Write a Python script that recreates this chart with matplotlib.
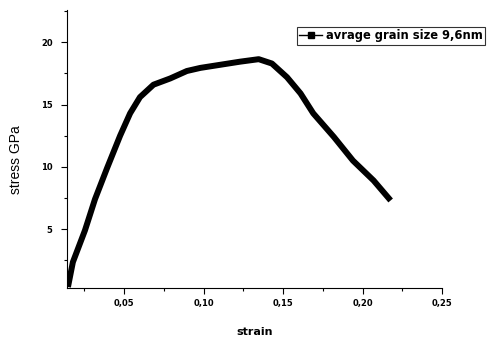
import matplotlib
matplotlib.use('Agg')
import matplotlib.pyplot as plt
from matplotlib.lines import Line2D
from matplotlib.ticker import MultipleLocator, FuncFormatter

# valores (strain, stress GPa)
strain = [0.0147, 0.0178, 0.0254, 0.0317, 0.0393, 0.0475, 0.0538, 0.060,
          0.0685, 0.079, 0.0895, 0.098, 0.1105, 0.123, 0.1347, 0.143,
          0.1525, 0.161, 0.169, 0.182, 0.194, 0.207, 0.2177]
stress = [0.35, 2.35, 4.9, 7.4, 9.9, 12.5, 14.3, 15.6,
          16.6, 17.1, 17.7, 17.95, 18.2, 18.45, 18.65, 18.3,
          17.2, 15.9, 14.3, 12.4, 10.5, 8.9, 7.3]
legend_label = 'avrage grain size 9,6nm'

fig = plt.figure(figsize=(4.87, 3.44), dpi=100)
ax = fig.add_axes([67 / 487, 56 / 344, 375 / 487, 278 / 344])

ax.plot(strain, stress, color='black', lw=4.3, solid_capstyle='butt',
        solid_joinstyle='round')

ax.set_xlim(0.0141, 0.25)
ax.set_ylim(0.27, 22.6)

for s in ['top', 'right']:
    ax.spines[s].set_visible(False)

ax.xaxis.set_major_locator(MultipleLocator(0.05))
ax.xaxis.set_minor_locator(MultipleLocator(0.025))
ax.yaxis.set_major_locator(MultipleLocator(5))
ax.yaxis.set_minor_locator(MultipleLocator(2.5))
ax.xaxis.set_major_formatter(FuncFormatter(lambda v, p: ('%.2f' % v).replace('.', ',')))
ax.yaxis.set_major_formatter(FuncFormatter(lambda v, p: '%d' % v))
ax.tick_params(which='major', length=4.3, width=0.8, labelsize=6)
ax.tick_params(which='minor', length=2.5, width=0.8)
ax.tick_params(axis='y', which='major', pad=6)
for lab in ax.get_xticklabels() + ax.get_yticklabels():
    lab.set_fontweight('bold')
    lab.set_family('DejaVu Sans')

ax.set_xlabel('strain', fontsize=8, fontweight='bold', labelpad=14)
ax.set_ylabel('stress GPa', fontsize=10, family='Liberation Sans')
ax.yaxis.set_label_coords(-0.118, 0.46)

handle = Line2D([], [], color='black', lw=1, marker='s', markersize=4)
leg = ax.legend([handle], [legend_label], loc='upper left',
                bbox_to_anchor=(0.613, 0.939), borderaxespad=0, frameon=True,
                fancybox=False, handlelength=2.0, handletextpad=0.3,
                borderpad=0.2, prop={'size': 8.3, 'weight': 'bold'})
leg.get_frame().set_edgecolor('black')
leg.get_frame().set_linewidth(0.8)

fig.savefig('out.png', dpi=100)
